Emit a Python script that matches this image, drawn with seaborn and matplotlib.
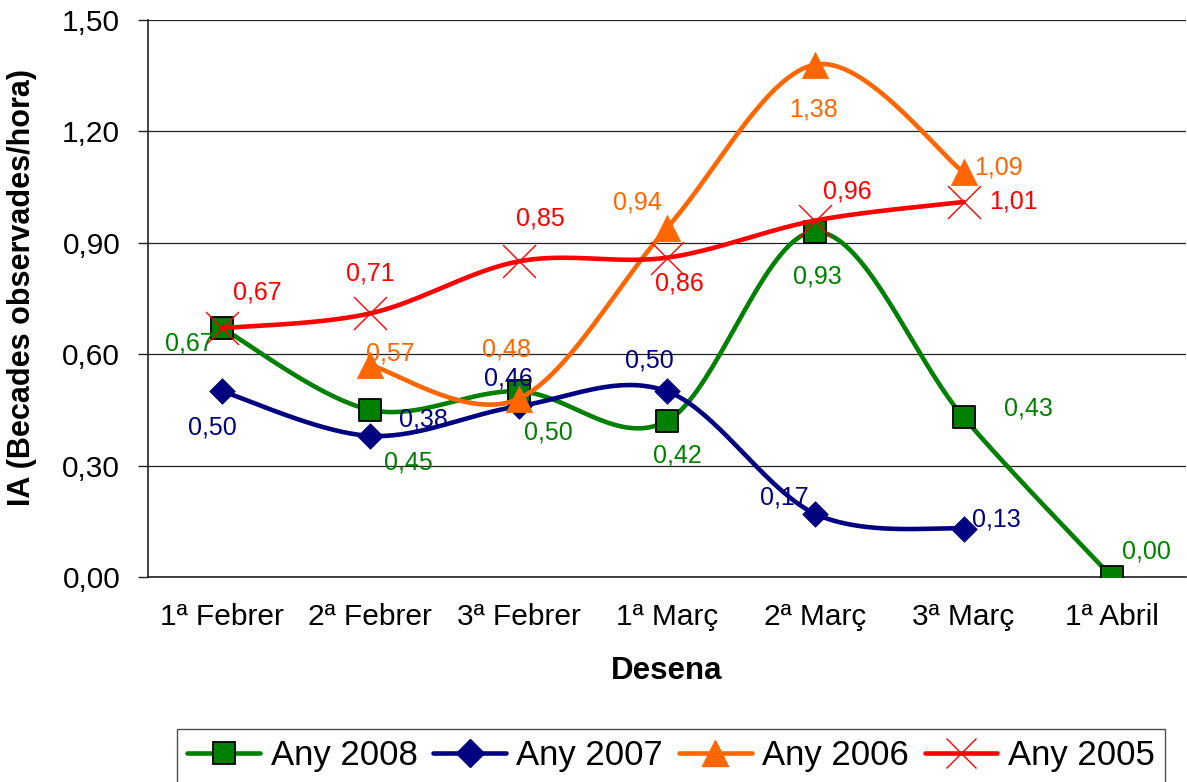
import numpy as np
import pandas as pd
import matplotlib
matplotlib.use("Agg")
import matplotlib.pyplot as plt
from matplotlib.lines import Line2D
from matplotlib.ticker import FuncFormatter, FixedLocator
import seaborn as sns

# Data
categories = ["1ª Febrer", "2ª Febrer", "3ª Febrer", "1ª Març", "2ª Març", "3ª Març", "1ª Abril"]
any_2008 = [0.67, 0.45, 0.50, 0.42, 0.93, 0.43, 0.00]
any_2007 = [0.50, 0.38, 0.46, 0.50, 0.17, 0.13, None]
any_2006 = [None, 0.57, 0.48, 0.94, 1.38, 1.09, None]
any_2005 = [0.67, 0.71, 0.85, 0.86, 0.96, 1.01, None]
series_names = ["Any 2008", "Any 2007", "Any 2006", "Any 2005"]

# styling per series
colors = ["#008000", "#000080", "#FF6600", "#FF0000"]
markers = ["s", "D", "^", "x"]
sizes = [270, 170, 360, 560]

# data label offsets in pixels (dx, dy), dy positive = up
offs_2008 = [(-33, -15), (38, -53), (30, -41), (10, -34), (2, -45), (65, 9), (35, 25)]
offs_2007 = [(-10, -36), (53, 16), (-10, 28), (-18, 31), (-31, 16), (33, 9), None]
offs_2006 = [None, (20, 12), (-12, 49), (-30, 25), (-2, -45), (35, 5), None]
offs_2005 = [(35, 36), (0, 40), (22, 43), (12, -26), (32, 29), (50, 0), None]


def smooth(xs, ys, n=40):
    # Excel-style smoothed line (Catmull-Rom bezier)
    xs = np.asarray(xs, float)
    ys = np.asarray(ys, float)
    px = np.r_[xs[0], xs, xs[-1]]
    py = np.r_[ys[0], ys, ys[-1]]
    t = np.linspace(0, 1, n)
    ox, oy = [], []
    for i in range(1, len(px) - 2):
        for p, o in ((px, ox), (py, oy)):
            p0, p1, p2, p3 = p[i - 1], p[i], p[i + 1], p[i + 2]
            c1 = p1 + (p2 - p0) / 6
            c2 = p2 - (p3 - p1) / 6
            b = (1 - t) ** 3 * p1 + 3 * (1 - t) ** 2 * t * c1 + 3 * (1 - t) * t ** 2 * c2 + t ** 3 * p2
            o.extend(b if i == 1 else b[1:])
    return np.array(ox), np.array(oy)


sns.set_style("white")
plt.rcParams["font.family"] = ["Liberation Sans", "DejaVu Sans"]
plt.rcParams["text.color"] = "black"
plt.rcParams["xtick.color"] = "black"
plt.rcParams["ytick.color"] = "black"
plt.rcParams["axes.labelcolor"] = "black"

W, H = 1187, 782
fig = plt.figure(figsize=(W / 100, H / 100), dpi=100)
ax = fig.add_axes([148 / W, 1 - 577 / H, 1038 / W, 557 / H])

all_vals = [any_2008, any_2007, any_2006, any_2005]
all_offs = [offs_2008, offs_2007, offs_2006, offs_2005]

for k, (name, vals, offs) in enumerate(zip(series_names, all_vals, all_offs)):
    idx = [i for i, v in enumerate(vals) if v is not None]
    yv = [vals[i] for i in idx]
    sx, sy = smooth(idx, yv)
    df = pd.DataFrame({"x": sx, "y": sy})
    sns.lineplot(data=df, x="x", y="y", sort=False, estimator=None, color=colors[k],
                 linewidth=3.3, ax=ax, zorder=3 + k, legend=False)
    if markers[k] == "x":
        sns.scatterplot(x=idx, y=yv, marker="x", s=sizes[k], color=colors[k],
                        linewidth=1.0, ax=ax, zorder=3.5 + k, legend=False)
    else:
        sns.scatterplot(x=idx, y=yv, marker=markers[k], s=sizes[k], color=colors[k],
                        edgecolor="black" if markers[k] == "s" else colors[k],
                        linewidth=1.3 if markers[k] == "s" else 0.5,
                        ax=ax, zorder=3.5 + k, legend=False)
    for i in idx:
        dx, dy = offs[i]
        ax.annotate(f"{vals[i]:.2f}".replace(".", ","), (i, vals[i]), xytext=(dx, dy),
                    textcoords="offset pixels", ha="center", va="center",
                    fontsize=18, color=colors[k], zorder=10)

ax.set_xlim(-0.5, len(categories) - 0.5)
ax.set_ylim(0, 1.5)
ax.set_yticks(np.arange(0, 1.51, 0.30))
ax.yaxis.set_major_formatter(FuncFormatter(lambda v, p: f"{v:.2f}".replace(".", ",")))
ax.set_xticks(range(len(categories)))
ax.set_xticklabels(categories)
ax.xaxis.set_minor_locator(FixedLocator(np.arange(-0.5, len(categories), 1.0)))
ax.tick_params(axis="x", which="major", length=0, pad=19, labelsize=21.5)
ax.tick_params(axis="x", which="minor", length=8, width=1, color="#222222", direction="out")
ax.tick_params(axis="y", which="major", length=7, width=1, color="#222222", direction="out",
               pad=13, labelsize=21.5, left=True)
ax.grid(axis="y", color="#222222", linewidth=0.9)
ax.set_axisbelow(True)
for s in ["top", "right"]:
    ax.spines[s].set_visible(False)
for s in ["left", "bottom"]:
    ax.spines[s].set_color("#222222")
    ax.spines[s].set_linewidth(1.2)

ax.set_ylabel("IA (Becades observades/hora)", fontsize=22, fontweight="bold")
ax.yaxis.set_label_coords(-0.107, 0.519)
ax.set_xlabel("Desena", fontsize=22.5, fontweight="bold", labelpad=18)

handles = []
for k in range(4):
    if markers[k] == "s":
        h = Line2D([], [], color=colors[k], lw=3.3, marker="s", markersize=16,
                   markeredgecolor="black", markeredgewidth=1.3)
    elif markers[k] == "x":
        h = Line2D([], [], color=colors[k], lw=3.3, marker="x", markersize=22,
                   markeredgewidth=1.0)
    else:
        h = Line2D([], [], color=colors[k], lw=3.3, marker=markers[k],
                   markersize=14 if markers[k] == "D" else 19)
    handles.append(h)

leg = fig.legend(handles, series_names, loc="upper center", bbox_to_anchor=(671 / W, 1 - 729 / H),
                 ncol=4, fontsize=25, frameon=True, fancybox=False, edgecolor="#222222",
                 handlelength=2.1, handletextpad=0.3, columnspacing=0.45, borderpad=0.3,
                 borderaxespad=0)
leg.get_frame().set_linewidth(1.0)

fig.savefig("out.png", dpi=100)
